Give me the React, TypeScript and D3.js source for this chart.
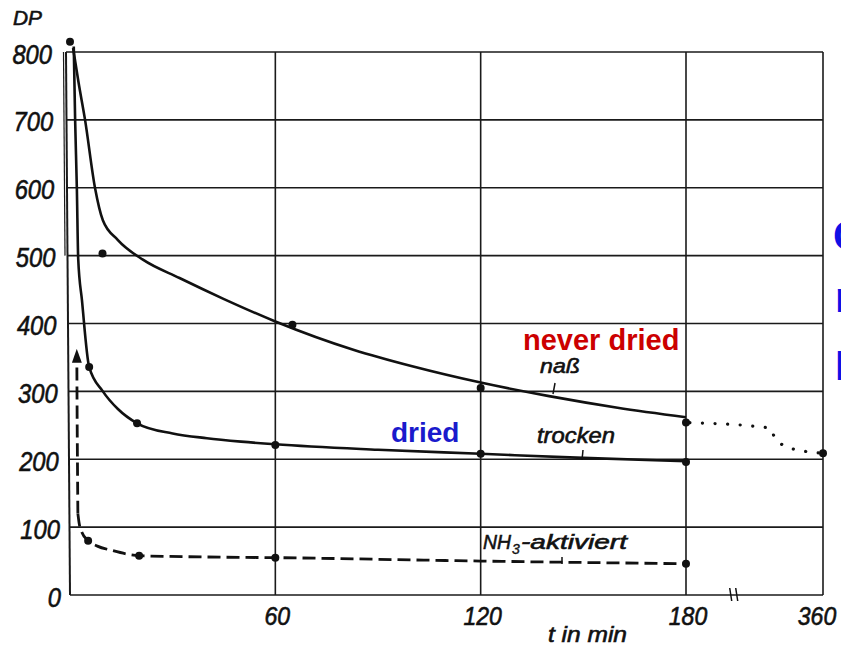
import React from "react";
import * as d3 from "d3";

const yTicks = [0, 100, 200, 300, 400, 500, 600, 700, 800];
const xTicks = [60, 120, 180, 360];
const xGrid = [60, 120, 180];

// naß (never dried) – solid curve
const nassCurve: [number, number][] = [
  [0.9, 806], [2.5, 755], [4.4, 700], [7.3, 600], [9.6, 552], [14, 523],
  [21.3, 494], [32, 467], [45, 436], [60, 403], [83, 361],
  [100, 337], [120, 313], [140, 293], [160, 276], [180, 262],
];
const nassDots: [number, number][] = [[0, 815], [9.5, 503], [65, 398], [120, 305], [180, 254]];
const nassExtension: [number, number][] = [[185, 254], [290, 246], [297, 231], [307, 221], [330, 213], [360, 209]];

// trocken (dried) – solid curve
const trockenCurve: [number, number][] = [
  [1.1, 808], [1.5, 700], [2.0, 600], [2.4, 495], [3.5, 434], [5.6, 336], [9.6, 300], [14, 274],
  [19.6, 253], [30, 238], [40, 231], [50, 226], [60, 222], [90, 214], [120, 208],
  [150, 202], [180, 197],
];
const trockenDots: [number, number][] = [[5.6, 336], [19.6, 253], [60, 221], [120, 208], [180, 196]];

// NH3-aktiviert – dashed curve
const nh3Curve: [number, number][] = [
  [2.3, 120], [2.7, 105], [3.5, 92], [5.3, 80], [8, 72], [12, 66], [20.2, 58],
  [40, 56], [60, 55], [120, 50], [180, 46],
];
const nh3Rise: [number, number][] = [[2.3, 120], [2.1, 250], [2.0, 345]];
const nh3Dots: [number, number][] = [[5.3, 80], [20.2, 58], [60, 55], [180, 46]];

const x = d3.scaleLinear().domain([0, 180, 360]).range([70, 686, 823]);
const y = d3.scaleLinear().domain([0, 800]).range([595, 52]);

const line = d3
  .line<[number, number]>()
  .x((d) => x(d[0]))
  .y((d) => y(d[1]))
  .curve(d3.curveMonotoneX);
const straight = d3
  .line<[number, number]>()
  .x((d) => x(d[0]))
  .y((d) => y(d[1]))
  .curve(d3.curveCatmullRom);

const tickFont = "'Liberation Sans', Arial, sans-serif";
const boldFont = "'Liberation Sans', Arial, sans-serif";
const digitW = 13.2;

export default function App() {
  const gridColor = "#1a1a1a";
  const ink = "#111";
  const heavy = { stroke: ink, strokeWidth: 0.6 };
  return (
    <svg
      width={841}
      height={649}
      style={{ position: "absolute", left: 0, top: 0, background: "#fff" }}
    >
      <defs>
        <marker id="arr" viewBox="0 0 14 10" refX="2" refY="5" markerWidth="14" markerHeight="10" orient="auto" markerUnits="userSpaceOnUse">
          <path d="M0,0 L14,5 L0,10 Z" fill={ink} />
        </marker>
      </defs>
      {/* horizontal grid */}
      {yTicks.map((t) => (
        <line key={"h" + t} x1={x(0) - 4 * (t / 800)} x2={x(360)} y1={y(t)} y2={y(t)} stroke={gridColor} strokeWidth={1.6} />
      ))}
      {/* vertical grid */}
      {xGrid.map((t) => (
        <line key={"v" + t} x1={x(t)} x2={x(t)} y1={y(800)} y2={y(0)} stroke={gridColor} strokeWidth={1.6} />
      ))}
      <line x1={x(0) - 4} x2={x(0)} y1={y(800)} y2={y(0)} stroke={gridColor} strokeWidth={2} />
      <line x1={x(0) - 6.5} x2={x(0) - 5} y1={y(800)} y2={y(500)} stroke={gridColor} strokeWidth={1.2} />
      <line x1={x(360)} x2={x(360)} y1={y(800)} y2={y(0)} stroke={gridColor} strokeWidth={1.6} />
      {/* axis break */}
      <line x1={x(244) - 5} x2={x(244) - 3} y1={y(0) - 7} y2={y(0) + 6} stroke={ink} strokeWidth={1.5} />
      <line x1={x(244) + 1} x2={x(244) + 3} y1={y(0) - 7} y2={y(0) + 6} stroke={ink} strokeWidth={1.5} />

      {/* y tick labels */}
      {yTicks.map((t) => {
        const s = String(t);
        const w = s.length * digitW;
        const right = 52 + 9 * (1 - t / 800);
        return (
          <text key={"yl" + t} x={right - w} y={y(t) + 11.5} fontFamily={tickFont} fontStyle="italic" fontSize={28} fill={ink}
            textLength={w} lengthAdjust="spacingAndGlyphs" {...heavy}>
            {s}
          </text>
        );
      })}
      <text x={13} y={25} fontFamily={tickFont} fontStyle="italic" fontSize={21} fill={ink} textLength={29} lengthAdjust="spacingAndGlyphs" {...heavy}>DP</text>
      {/* x tick labels */}
      {xTicks.map((t) => {
        const s = String(t);
        const w = s.length * 12.8;
        const cx = x(t) + (t === 360 ? -6 : 2);
        return (
          <text key={"xl" + t} x={cx - w / 2} y={625} fontFamily={tickFont} fontStyle="italic" fontSize={25} fill={ink}
            textLength={w} lengthAdjust="spacingAndGlyphs" {...heavy}>
            {s}
          </text>
        );
      })}
      <text x={548} y={642} fontFamily={tickFont} fontStyle="italic" fontSize={22} fill={ink} textLength={79} lengthAdjust="spacingAndGlyphs" {...heavy}>t in min</text>

      {/* curves */}
      <path d={line(nassCurve) || ""} fill="none" stroke={ink} strokeWidth={2.6} />
      <path d={line(nassExtension) || ""} fill="none" stroke={ink} strokeWidth={3.2} strokeDasharray="0.1 12.5" strokeLinecap="round" />
      <path d={line(trockenCurve) || ""} fill="none" stroke={ink} strokeWidth={2.6} />
      <path d={line(nh3Curve) || ""} fill="none" stroke={ink} strokeWidth={2.8} strokeDasharray="13 6" />
      <path d={straight(nh3Rise) || ""} fill="none" stroke={ink} strokeWidth={2.8} strokeDasharray="13 6" markerEnd="url(#arr)" />

      {[...nassDots, ...trockenDots, ...nh3Dots, [360, 209] as [number, number]].map((d, i) => (
        <circle key={"d" + i} cx={x(d[0])} cy={y(d[1])} r={4} fill={ink} />
      ))}

      {/* German annotations */}
      <text x={540} y={373} fontFamily={tickFont} fontStyle="italic" fontSize={21} fill={ink} textLength={40} lengthAdjust="spacingAndGlyphs" {...heavy}>naß</text>
      <line x1={555} y1={383} x2={553} y2={394} stroke={ink} strokeWidth={1.5} />
      <text x={537} y={443} fontFamily={tickFont} fontStyle="italic" fontSize={22} fill={ink} textLength={78} lengthAdjust="spacingAndGlyphs" {...heavy}>trocken</text>
      <line x1={583} y1={450} x2={582} y2={460} stroke={ink} strokeWidth={1.5} />
      <text x={483} y={549} fontFamily={tickFont} fontStyle="italic" fontSize={21} fill={ink} textLength={28} lengthAdjust="spacingAndGlyphs" {...heavy}>NH</text>
      <text x={512} y={554} fontFamily={tickFont} fontStyle="italic" fontSize={14} fill={ink} {...heavy} strokeWidth={0.4}>3</text>
      <text x={521} y={549} fontFamily={tickFont} fontStyle="italic" fontSize={21} fill={ink} textLength={106} lengthAdjust="spacingAndGlyphs" {...heavy}>-aktiviert</text>
      <line x1={562} y1={557} x2={562} y2={564} stroke={ink} strokeWidth={1.5} />

      {/* coloured labels */}
      <text x={523} y={350} fontFamily={boldFont} fontWeight="bold" fontSize={29} fill="#cc0000">never dried</text>
      <text x={391} y={442} fontFamily={boldFont} fontWeight="bold" fontSize={28} fill="#1a1acc">dried</text>
      <text x={833} y={250} fontFamily={boldFont} fontWeight="bold" fontSize={42} fill="#1010e6">Cellulose</text>
      <text x={835} y={312} fontFamily={boldFont} fontWeight="bold" fontSize={42} fill="#1010e6">nach</text>
      <text x={835} y={380} fontFamily={boldFont} fontWeight="bold" fontSize={42} fill="#1010e6">Lösung</text>
    </svg>
  );
}
